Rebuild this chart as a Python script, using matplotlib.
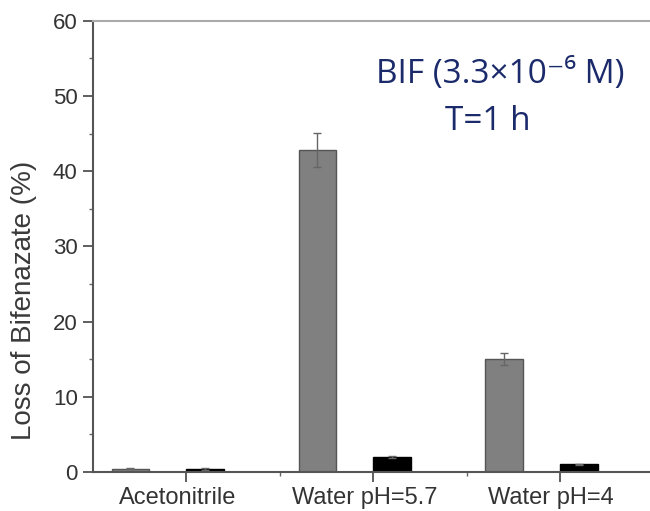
import numpy as np
import matplotlib.pyplot as plt
from matplotlib.ticker import MultipleLocator
from matplotlib.transforms import ScaledTranslation

categories = ["Acetonitrile", "Water pH=5.7", "Water pH=4"]
gray_vals = [0.45, 42.8, 15.0]
gray_err = [0.1, 2.3, 0.8]
black_vals = [0.4, 2.0, 1.0]
black_err = [0.1, 0.1, 0.05]

plt.rcParams['font.family'] = ['Liberation Sans', 'DejaVu Sans']

fig = plt.figure(figsize=(6.5, 5.11), dpi=100)
ax = fig.add_axes([0.143, 0.0763, 0.877, 0.883])

x = np.arange(len(categories))
w = 0.2
ax.bar(x - 0.2, gray_vals, w, color="#808080", edgecolor="#555555", linewidth=1,
       yerr=gray_err, error_kw=dict(ecolor="#666666", elinewidth=1, capsize=3, capthick=1))
ax.bar(x + 0.2, black_vals, w, color="black", edgecolor="black", linewidth=1,
       yerr=black_err, error_kw=dict(ecolor="#666666", elinewidth=1, capsize=3, capthick=1))

ax.set_xlim(-0.4, 2.65)
ax.set_ylim(0, 60)
ax.yaxis.set_major_locator(MultipleLocator(10))
ax.yaxis.set_minor_locator(MultipleLocator(5))
ax.set_xticks(x + 0.1)
ax.set_xticklabels(categories)
ax.set_xticks(x + 0.6, minor=True)

ax.tick_params(axis="both", which="major", direction="out", length=7, width=1.2,
               colors="#444444", labelsize=16, labelcolor="#333333", pad=4)
ax.tick_params(axis="x", which="major", labelsize=17)
ax.tick_params(axis="both", which="minor", direction="out", length=3, width=1,
               colors="#666666")

# labels sit a little left of their ticks in the original
for lab in ax.get_xticklabels():
    lab.set_transform(lab.get_transform() + ScaledTranslation(-0.09, 0, fig.dpi_scale_trans))

for side in ["left", "bottom"]:
    ax.spines[side].set_color("#555555")
    ax.spines[side].set_linewidth(1.5)
ax.spines["top"].set_color("#aaaaaa")
ax.spines["top"].set_linewidth(1.5)
ax.spines["right"].set_visible(False)

ax.set_ylabel("Loss of Bifenazate (%)", fontsize=20, color="#3a3a3a")
ax.yaxis.set_label_coords(-0.098, 0.38)

navy = "#1b2a6b"
fig.text(0.769, 0.8376, "BIF (3.3×10⁻⁶ M)", fontsize=24, color=navy,
         ha="center", va="baseline", family=["Open Sans", "DejaVu Sans"])
fig.text(0.75, 0.7456, "T=1 h", fontsize=24, color=navy,
         ha="center", va="baseline", family=["Open Sans", "DejaVu Sans"])

fig.savefig("out.png", dpi=100)
